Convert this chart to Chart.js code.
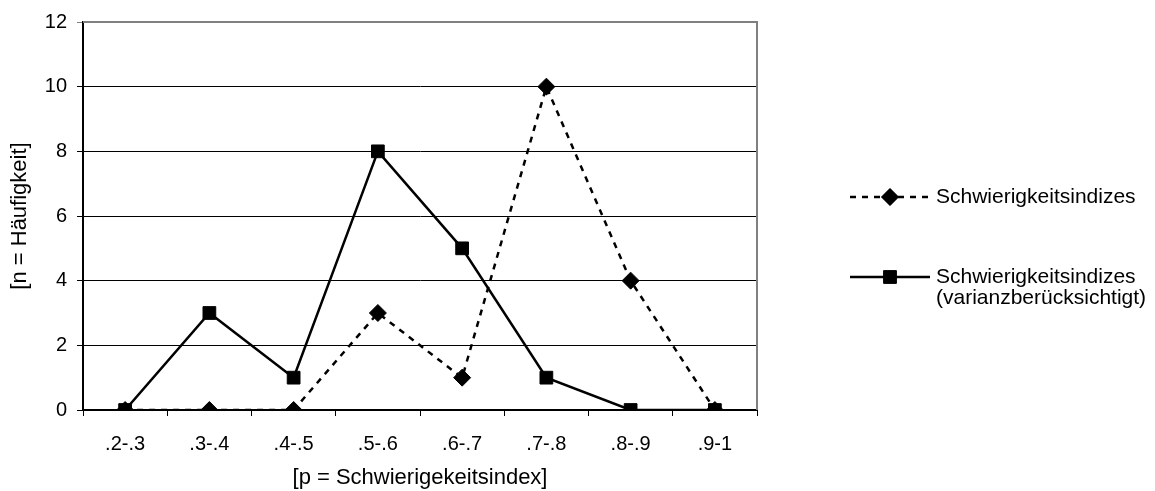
<!DOCTYPE html>
<html>
<head>
<meta charset="utf-8">
<script src="https://cdn.jsdelivr.net/npm/chart.js@4/dist/chart.umd.min.js"></script>
<style>
  html, body { margin: 0; padding: 0; background: #fff; }
  #wrap { width: 1155px; height: 491px; position: relative; }
</style>
</head>
<body>
<div id="wrap"><canvas id="chart"></canvas></div>
<script>
// Data
const categories = [".2-.3", ".3-.4", ".4-.5", ".5-.6", ".6-.7", ".7-.8", ".8-.9", ".9-1"];
const seriesNames = ["Schwierigkeitsindizes", "Schwierigkeitsindizes (varianzberücksichtigt)"];
const indexValues = [0, 0, 0, 3, 1, 10, 4, 0];
const varianceValues = [0, 3, 1, 8, 5, 1, 0, 0];
const yTicks = [0, 2, 4, 6, 8, 10, 12];

const FONT = "'Liberation Sans', Arial, sans-serif";

// draws the legend on the right like the original
const sideLegend = {
  id: "sideLegend",
  afterDraw(chart) {
    const ctx = chart.ctx;
    const rows = [
      { y: 197, dash: [6, 6], style: "rectRot", r: 8.5, lines: ["Schwierigkeitsindizes"] },
      { y: 277, dash: [], style: "rect", r: 9, lines: ["Schwierigkeitsindizes", "(varianzberücksichtigt)"] }
    ];
    ctx.save();
    rows.forEach(row => {
      ctx.strokeStyle = "#000";
      ctx.lineWidth = 2.5;
      ctx.setLineDash(row.dash);
      ctx.beginPath();
      ctx.moveTo(850, row.y);
      ctx.lineTo(930, row.y);
      ctx.stroke();
      ctx.setLineDash([]);
      ctx.fillStyle = "#000";
      ctx.lineWidth = 1;
      Chart.helpers.drawPoint(ctx, { pointStyle: row.style, radius: row.r, borderWidth: 1 }, 890, row.y);
      ctx.fill();
      ctx.font = "21px " + FONT;
      ctx.textBaseline = "middle";
      ctx.textAlign = "left";
      row.lines.forEach((t, i) => ctx.fillText(t, 936, row.y + i * 21));
    });
    ctx.restore();
  }
};

// gray frame on top and right of the plot area
const plotFrame = {
  id: "plotFrame",
  beforeDatasetsDraw(chart) {
    const { ctx, chartArea: a } = chart;
    ctx.save();
    ctx.strokeStyle = "#808080";
    ctx.lineWidth = 2;
    ctx.beginPath();
    ctx.moveTo(a.left, a.top);
    ctx.lineTo(a.right, a.top);
    ctx.lineTo(a.right, a.bottom);
    ctx.stroke();
    ctx.restore();
  }
};

new Chart(document.getElementById("chart"), {
  type: "line",
  data: {
    labels: categories,
    datasets: [
      {
        label: seriesNames[0],
        data: indexValues,
        borderColor: "#000",
        backgroundColor: "#000",
        borderWidth: 2.5,
        borderDash: [6, 6],
        pointStyle: "rectRot",
        pointRadius: 8.5,
        pointBorderWidth: 1,
        tension: 0,
        order: 1
      },
      {
        label: seriesNames[1],
        data: varianceValues,
        borderColor: "#000",
        backgroundColor: "#000",
        borderWidth: 2.5,
        pointStyle: "rect",
        pointRadius: 9,
        pointBorderWidth: 1,
        tension: 0,
        order: 0
      }
    ]
  },
  options: {
    responsive: true,
    maintainAspectRatio: false,
    animation: false,
    layout: { padding: { top: 16, right: 398, bottom: 0, left: 0 } },
    plugins: {
      legend: { display: false },
      tooltip: { enabled: false }
    },
    scales: {
      x: {
        offset: true,
        grid: { offset: true, drawOnChartArea: false, color: "#000", tickLength: 6, lineWidth: 1 },
        border: { color: "#000", width: 2 },
        ticks: { color: "#000", font: { size: 20, family: FONT }, padding: 16, maxRotation: 0 },
        title: { display: true, text: "[p = Schwierigekeitsindex]", color: "#000", font: { size: 22, family: FONT }, padding: { top: 0, bottom: 0 } },
        afterFit(scale) { scale.height = 81; }
      },
      y: {
        min: 0,
        max: 12,
        afterBuildTicks(scale) { scale.ticks = yTicks.map(v => ({ value: v })); },
        grid: {
          color: ctx => (ctx.tick && ctx.tick.value === 12 ? "#808080" : "#000"),
          lineWidth: 1,
          tickLength: 6
        },
        border: { color: "#000", width: 2 },
        ticks: { color: "#000", font: { size: 20, family: FONT }, padding: 10 },
        title: { display: true, text: "[n = Häufigkeit]", color: "#000", font: { size: 22, family: FONT }, padding: { top: 7, bottom: 0 } },
        afterFit(scale) { scale.width = 83; }
      }
    }
  },
  plugins: [plotFrame, sideLegend]
});
</script>
</body>
</html>
